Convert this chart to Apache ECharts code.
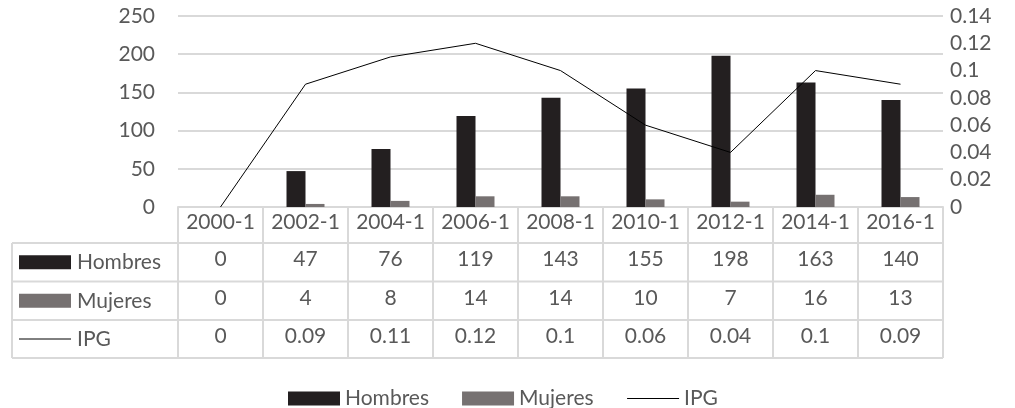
<!DOCTYPE html>
<html>
<head>
<meta charset="utf-8">
<script src="https://cdn.jsdelivr.net/npm/echarts@6/dist/echarts.min.js"></script>
<style>
  html, body { margin: 0; padding: 0; background: #fff; }
  #chart { width: 1015px; height: 408px; }
</style>
</head>
<body>
<div id="chart"></div>
<script>
// datos
const categorias = ['2000-1', '2002-1', '2004-1', '2006-1', '2008-1', '2010-1', '2012-1', '2014-1', '2016-1'];
const hombres = [0, 47, 76, 119, 143, 155, 198, 163, 140];
const mujeres = [0, 4, 8, 14, 14, 10, 7, 16, 13];
const ipg = [0, 0.09, 0.11, 0.12, 0.1, 0.06, 0.04, 0.1, 0.09];

const FONT = 'Lato';
const FS = 21;
const TXT = '#595959';
const LINEA = '#d9d9d9';
const C_H = '#231f20';
const C_M = '#767171';

// geometria del area de dibujo
const gLeft = 178, gRight = 943, gTop = 16, gBottom = 207;
const colW = (gRight - gLeft) / categorias.length;
const filas = [243, 281.5, 320, 358];

let myChart = echarts.init(document.getElementById('chart'));

// lineas de la tabla de datos
const graficos = [];
for (let i = 0; i <= categorias.length; i++) {
  const x = Math.round(gLeft + i * colW);
  graficos.push({ type: 'line', shape: { x1: x, y1: gBottom, x2: x, y2: filas[3] }, style: { stroke: LINEA, lineWidth: 2 } });
}
graficos.push({ type: 'line', shape: { x1: 12, y1: filas[0], x2: 12, y2: filas[3] }, style: { stroke: LINEA, lineWidth: 2 } });
filas.forEach(y => {
  graficos.push({ type: 'line', shape: { x1: 12, y1: y, x2: gRight, y2: y }, style: { stroke: LINEA, lineWidth: 2 } });
});
// claves de la tabla
const claves = [
  { nombre: 'Hombres', color: C_H, tipo: 'rect' },
  { nombre: 'Mujeres', color: C_M, tipo: 'rect' },
  { nombre: 'IPG', color: '#000', tipo: 'line' }
];
claves.forEach((k, i) => {
  const cy = (filas[i] + filas[i + 1]) / 2;
  if (k.tipo === 'rect') {
    graficos.push({ type: 'rect', shape: { x: 19, y: cy - 7, width: 52, height: 14 }, style: { fill: k.color } });
  } else {
    graficos.push({ type: 'line', shape: { x1: 19, y1: cy, x2: 71, y2: cy }, style: { stroke: k.color, lineWidth: 1 } });
  }
  graficos.push({ type: 'text', x: 77, y: cy, style: { text: k.nombre, fill: TXT, font: FS + 'px ' + FONT, textVerticalAlign: 'middle' } });
});

function filaEje(datos, offset) {
  return {
    type: 'category', data: datos.map(String), position: 'bottom', offset: offset,
    axisLine: { show: false }, axisTick: { show: false },
    axisLabel: { color: TXT, fontSize: FS, fontFamily: FONT, margin: 5, interval: 0 }
  };
}

let option = {
  animation: false,
  grid: { left: gLeft, right: 1015 - gRight, top: gTop, bottom: 408 - gBottom },
  legend: {
    left: 283, top: 383, itemWidth: 52, itemHeight: 14, itemGap: 33,
    textStyle: { color: TXT, fontSize: FS, fontFamily: FONT },
    data: [
      { name: 'Hombres', icon: 'rect' },
      { name: 'Mujeres', icon: 'rect' },
      { name: 'IPG', itemStyle: { opacity: 0 }, lineStyle: { width: 1 } }
    ]
  },
  xAxis: [
    {
      type: 'category', data: categorias, position: 'bottom',
      axisLine: { lineStyle: { color: LINEA, width: 2 } },
      axisTick: { show: false },
      axisLabel: { color: TXT, fontSize: FS, fontFamily: FONT, margin: 5, interval: 0 }
    },
    filaEje(hombres, 37),
    filaEje(mujeres, 75.5),
    filaEje(ipg, 114)
  ],
  yAxis: [
    {
      type: 'value', min: 0, max: 250, interval: 50,
      axisLine: { show: false }, axisTick: { show: false },
      axisLabel: { color: TXT, fontSize: FS, fontFamily: FONT, margin: 23 },
      splitLine: { lineStyle: { color: LINEA, width: 2 } }
    },
    {
      type: 'value', min: 0, max: 0.14, interval: 0.02,
      axisLine: { show: false }, axisTick: { show: false },
      axisLabel: { color: TXT, fontSize: FS, fontFamily: FONT, margin: 7 },
      splitLine: { show: false }
    }
  ],
  graphic: graficos,
  series: [
    { name: 'Hombres', type: 'bar', data: hombres, barWidth: 19, barGap: '0%', itemStyle: { color: C_H } },
    { name: 'Mujeres', type: 'bar', data: mujeres, barWidth: 19, barGap: '0%', itemStyle: { color: C_M } },
    {
      name: 'IPG', type: 'line', yAxisIndex: 1, data: ipg, symbol: 'none',
      lineStyle: { color: '#000', width: 1 }, itemStyle: { color: '#000' }
    }
  ]
};

myChart.setOption(option);
</script>
</body>
</html>
